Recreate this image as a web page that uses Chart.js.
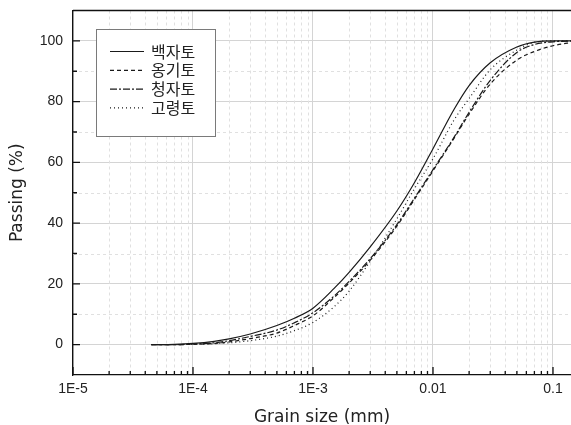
<!DOCTYPE html>
<html>
<head>
<meta charset="utf-8">
<script src="https://cdn.jsdelivr.net/npm/chart.js@4/dist/chart.umd.min.js"></script>
<style>
  html, body { margin: 0; padding: 0; background: #fff; }
</style>
</head>
<body>
<canvas id="psdChart" width="571" height="425"></canvas>
<script>
// Grain size (mm) and percent passing for the four clays
const grainSizes = [4.5e-5, 7e-5, 1e-4, 1.5e-4, 2e-4, 3e-4, 5e-4, 7e-4, 1e-3, 1.5e-3, 2e-3, 3e-3, 5e-3, 7e-3, 0.01, 0.015, 0.02, 0.03, 0.05, 0.07, 0.1, 0.15];
const baekja   = [0, 0.1, 0.4, 1.1, 1.9, 3.5, 6.3, 8.7, 12.0, 18.5, 23.8, 32.2, 44, 53.3, 64.5, 77.5, 85.3, 92.8, 98, 99.6, 100, 100];
const onggi    = [0, 0, 0.1, 0.4, 0.9, 2.0, 3.8, 6.3, 9.5, 15.5, 20.3, 27.8, 39, 47.8, 57.2, 68, 75.9, 85.8, 93.7, 96.5, 98.4, 99.6];
const cheongja = [0, 0, 0.2, 0.6, 1.3, 2.7, 4.8, 7.2, 10.5, 16, 20.8, 28.3, 39.5, 48.2, 57.6, 68.3, 76.5, 87, 96.2, 98.8, 99.7, 100];
const goryeong = [0, 0, 0.1, 0.3, 0.6, 1.3, 2.8, 4.6, 7.3, 12.5, 17.6, 27.5, 41.4, 51.3, 61.2, 74, 81, 90.5, 97, 99.5, 100, 100];

const soilNames = ['백자토', '옹기토', '청자토', '고령토'];
const soilSeries = [baekja, onggi, cheongja, goryeong];
const soilDash = [[], [4, 3], [7, 2, 2, 2], [1, 3]]; // solid, dash, dash-dot, dot

// axis ticks
const xMajorTicks = [1e-5, 1e-4, 1e-3, 1e-2, 1e-1];
const xTickLabels = ['1E-5', '1E-4', '1E-3', '0.01', '0.1'];
const yMajorTicks = [0, 20, 40, 60, 80, 100];
const yMinorTicks = [10, 30, 50, 70, 90];

const xMinorTicks = [];
xMajorTicks.forEach(d => { for (let k = 2; k <= 9; k++) xMinorTicks.push(d * k); });

const lineColor = '#1a1a1a';

// minor grid, inward ticks, top frame and the boxed legend
const plotDecor = {
  id: 'plotDecor',
  beforeDatasetsDraw(chart) {
    const { ctx, chartArea: a, scales: { x, y } } = chart;
    ctx.save();
    ctx.strokeStyle = '#e0e0e0';
    ctx.lineWidth = 1;
    ctx.setLineDash([3, 3]);
    ctx.beginPath();
    xMinorTicks.forEach(v => {
      const px = Math.round(x.getPixelForValue(v)) + 0.5;
      if (px > a.right) return;
      ctx.moveTo(px, a.top); ctx.lineTo(px, a.bottom);
    });
    yMinorTicks.forEach(v => {
      const py = Math.round(y.getPixelForValue(v)) + 0.5;
      ctx.moveTo(a.left, py); ctx.lineTo(a.right, py);
    });
    ctx.stroke();
    ctx.restore();
  },
  afterDatasetsDraw(chart) {
    const { ctx, chartArea: a, scales: { x, y } } = chart;
    ctx.save();
    ctx.strokeStyle = '#111';
    ctx.lineWidth = 1.3;
    ctx.beginPath();
    ctx.moveTo(a.left, a.top); ctx.lineTo(a.right, a.top);
    xMajorTicks.forEach(v => {
      const px = x.getPixelForValue(v);
      ctx.moveTo(px, a.bottom); ctx.lineTo(px, a.bottom - 8);
    });
    xMinorTicks.forEach(v => {
      const px = x.getPixelForValue(v);
      if (px > a.right) return;
      ctx.moveTo(px, a.bottom); ctx.lineTo(px, a.bottom - 4);
    });
    yMajorTicks.forEach(v => {
      const py = y.getPixelForValue(v);
      ctx.moveTo(a.left, py); ctx.lineTo(a.left + 7, py);
    });
    yMinorTicks.forEach(v => {
      const py = y.getPixelForValue(v);
      ctx.moveTo(a.left, py); ctx.lineTo(a.left + 4, py);
    });
    ctx.stroke();
    ctx.restore();
  },
  afterDraw(chart) {
    const { ctx } = chart;
    const bx = 96, by = 29, bw = 119, bh = 107;
    ctx.save();
    ctx.fillStyle = '#fff';
    ctx.fillRect(bx, by, bw, bh);
    ctx.strokeStyle = '#7a7a7a';
    ctx.lineWidth = 1;
    ctx.strokeRect(bx + 0.5, by + 0.5, bw, bh);
    ctx.font = '16px "Noto Sans CJK KR"';
    ctx.textBaseline = 'middle';
    ctx.fillStyle = '#222';
    chart.data.datasets.forEach((ds, i) => {
      const ry = 51.5 + i * 18.8;
      ctx.strokeStyle = ds.borderColor;
      ctx.lineWidth = 1.2;
      ctx.setLineDash(ds.borderDash);
      ctx.beginPath();
      ctx.moveTo(110, ry); ctx.lineTo(144, ry);
      ctx.stroke();
      ctx.fillText(ds.label, 151, ry);
    });
    ctx.restore();
  }
};

new Chart(document.getElementById('psdChart'), {
  type: 'line',
  data: {
    datasets: soilSeries.map((vals, i) => ({
      label: soilNames[i],
      data: grainSizes.map((s, j) => ({ x: s, y: vals[j] })),
      borderColor: lineColor,
      borderWidth: 1.2,
      borderDash: soilDash[i],
      pointRadius: 0,
      fill: false,
      cubicInterpolationMode: 'monotone'
    }))
  },
  options: {
    responsive: false,
    animation: false,
    layout: { padding: { top: 10.5, right: 0, left: 0, bottom: 0 } },
    plugins: {
      legend: { display: false },
      tooltip: { enabled: false }
    },
    scales: {
      x: {
        type: 'logarithmic',
        min: 1e-5,
        max: 0.1413,
        afterBuildTicks: scale => { scale.ticks = xMajorTicks.map(v => ({ value: v })); },
        afterFit: scale => { scale.height = 50; },
        ticks: {
          autoSkip: false,
          maxRotation: 0,
          padding: 6,
          color: '#222',
          font: { family: '"Liberation Sans", Arial, sans-serif', size: 14 },
          callback: (v, i) => xTickLabels[i]
        },
        grid: { color: '#d4d4d4', lineWidth: 1, drawTicks: false },
        border: { color: '#111', width: 1.3 },
        title: {
          display: true,
          text: 'Grain size (mm)',
          color: '#222',
          font: { family: '"DejaVu Sans", sans-serif', size: 17, lineHeight: 1 },
          padding: { top: 0, bottom: -1 }
        }
      },
      y: {
        type: 'linear',
        min: -10,
        max: 110,
        afterBuildTicks: scale => { scale.ticks = yMajorTicks.map(v => ({ value: v })); },
        afterFit: scale => {
          scale.width = 73;
          scale.paddingTop = 0;
          scale.paddingBottom = 0;
        },
        ticks: {
          padding: 10,
          color: '#222',
          font: { family: '"Liberation Sans", Arial, sans-serif', size: 14 }
        },
        grid: { color: '#d4d4d4', lineWidth: 1, drawTicks: false },
        border: { color: '#111', width: 1.3 },
        title: {
          display: true,
          text: 'Passing (%)',
          color: '#222',
          font: { family: '"DejaVu Sans", sans-serif', size: 17, lineHeight: 1 },
          padding: { top: 9, bottom: 0 }
        }
      }
    }
  },
  plugins: [plotDecor]
});
</script>
</body>
</html>
